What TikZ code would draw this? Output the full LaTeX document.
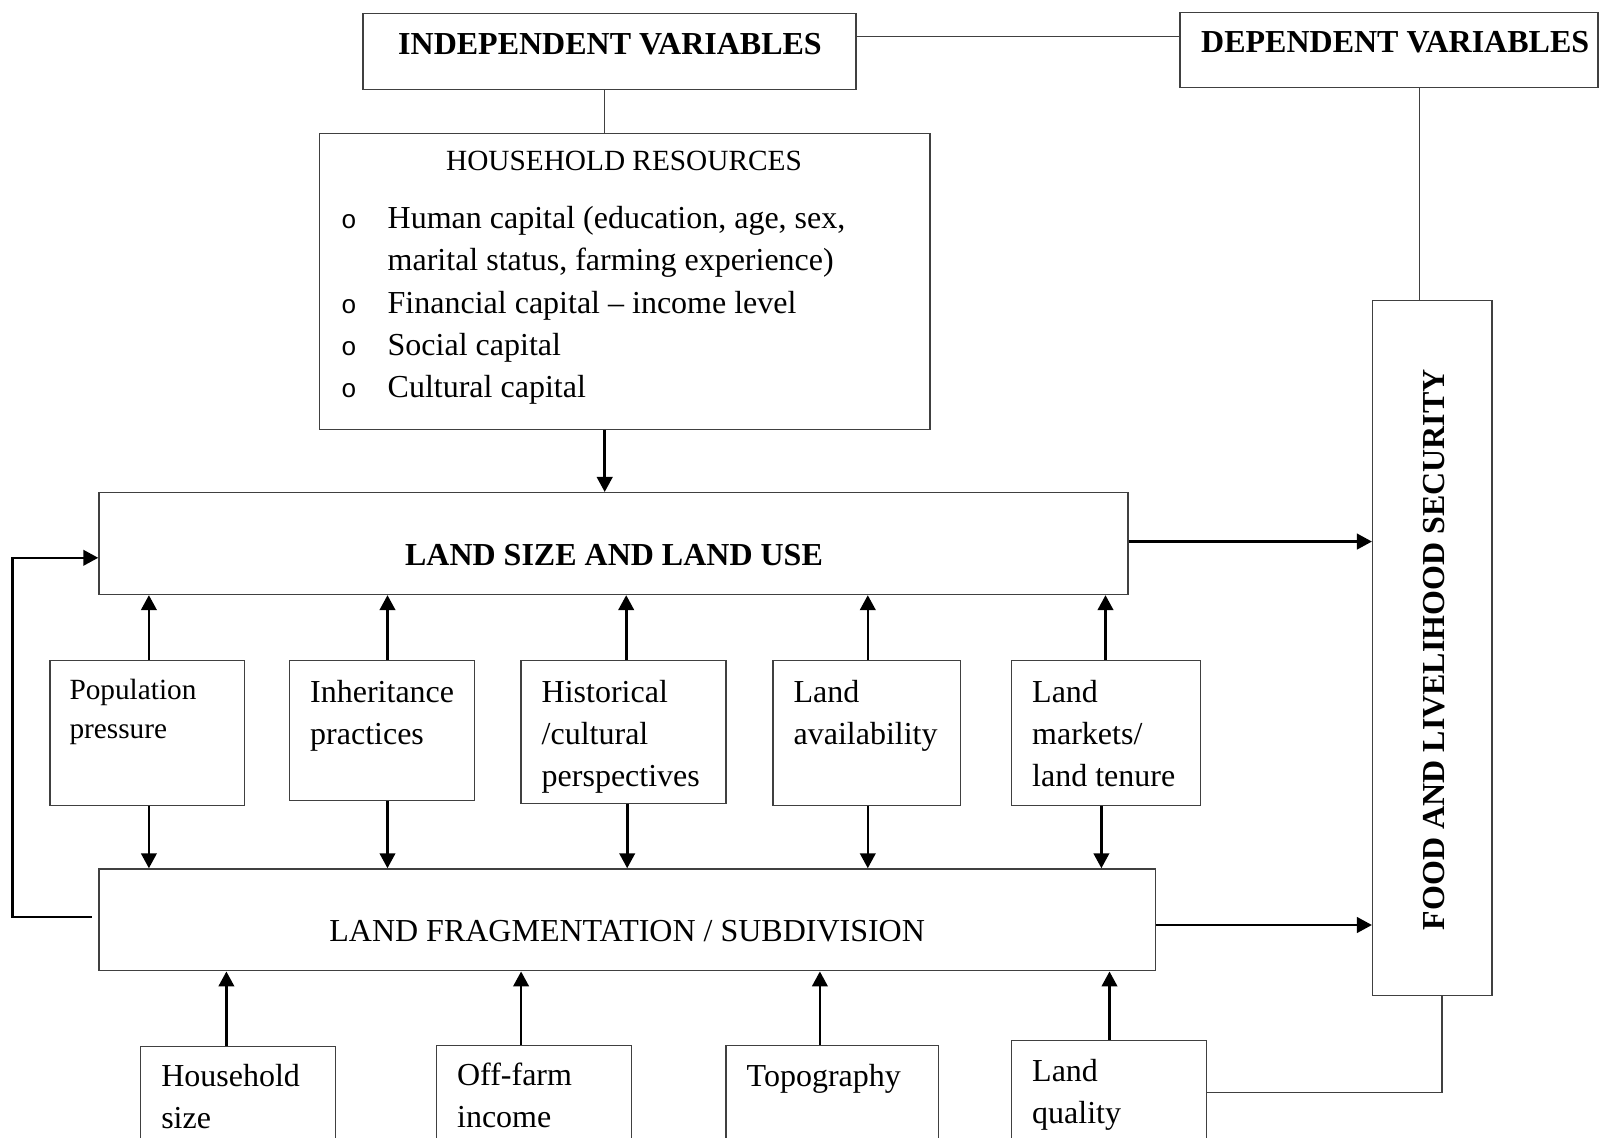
\documentclass[tikz,border=0pt]{standalone}
\usepackage{fontspec}
\setmainfont{Liberation Serif}
\newfontfamily\bulletfont{Liberation Mono}
\usetikzlibrary{arrows.meta}
\newcommand{\stackedlines}[1]{\begin{tabular}[t]{@{}l@{}}#1\end{tabular}}
\definecolor{boxgray}{HTML}{404040}
\begin{document}
\begin{tikzpicture}[x=1pt,y=-1pt,
  box/.style={draw=boxgray, line width=1.3pt, inner sep=0pt, rectangle},
  txt/.style={inner sep=0pt, font=\fontsize{32}{42}\selectfont},
  smalltxt/.style={inner sep=0pt, font=\fontsize{29.3}{39.8}\selectfont},
  boldtxt/.style={inner sep=0pt, font=\fontsize{32}{42}\selectfont\bfseries},
  link/.style={draw=boxgray, line width=1.3pt},
  arr/.style={draw=black, line width=2.6pt, -{Triangle[length=15pt,width=15.5pt]}},
]
\useasboundingbox (0,0) rectangle (1599,1138);
\clip (0,0) rectangle (1599,1138);

% ---- boxes ----
\node[box, minimum width=493pt, minimum height=76.4pt] (indep) at (609.5,51.5) {};
\node[box, minimum width=418pt, minimum height=75.5pt] (dep) at (1389,50) {};
\node[box, minimum width=610.8pt, minimum height=295.7pt] (hr) at (624.6,281.45) {};
\node[box, minimum width=1029pt, minimum height=101.9pt] (landsize) at (613.4,543.55) {};
\node[box, minimum width=119.4pt, minimum height=694.5pt] (food) at (1432.3,648.05) {};
\node[box, minimum width=194.8pt, minimum height=144.8pt] (pop) at (147.4,733.2) {};
\node[box, minimum width=184.6pt, minimum height=139.7pt] (inh) at (381.9,730.65) {};
\node[box, minimum width=205pt, minimum height=142.8pt] (hist) at (623.6,732.2) {};
\node[box, minimum width=187.7pt, minimum height=144.8pt] (avail) at (866.85,733.2) {};
\node[box, minimum width=188.7pt, minimum height=144.8pt] (markets) at (1105.95,733.2) {};
\node[box, minimum width=1056.5pt, minimum height=101.9pt] (frag) at (627.15,919.85) {};
\node[box, minimum width=194.8pt, minimum height=113.7pt] (household) at (238.1,1103.15) {};
\node[box, minimum width=194.8pt, minimum height=114.7pt] (offfarm) at (533.9,1102.65) {};
\node[box, minimum width=212.1pt, minimum height=114.7pt] (topo) at (832.15,1102.65) {};
\node[box, minimum width=194.8pt, minimum height=119.8pt] (quality) at (1109,1100.1) {};

% ---- texts ----
\node[boldtxt, anchor=base] (indeptxt) at (610,54.6) {INDEPENDENT VARIABLES};
\node[boldtxt, anchor=base west] (deptxt) at (1201,52.4) {DEPENDENT VARIABLES};
\node[smalltxt, anchor=base] (hrtitle) at (624,170.7) {HOUSEHOLD RESOURCES};
\node[txt, anchor=base west, font=\fontsize{32}{42.3}\selectfont] (hrlist) at (341,228.5) {%
  \begin{tabular}[t]{@{}l@{}l@{}}
  \makebox[46.5pt][l]{\bulletfont\fontsize{26}{42.3}\selectfont o} & Human capital (education, age, sex,\\
   & marital status, farming experience)\\
  \makebox[46.5pt][l]{\bulletfont\fontsize{26}{42.3}\selectfont o} & Financial capital -- income level\\
  \makebox[46.5pt][l]{\bulletfont\fontsize{26}{42.3}\selectfont o} & Social capital\\
  \makebox[46.5pt][l]{\bulletfont\fontsize{26}{42.3}\selectfont o} & Cultural capital
  \end{tabular}};
\node[boldtxt, anchor=base] (landsizetxt) at (614,565.4) {LAND SIZE AND LAND USE};
\node[boldtxt, anchor=base, rotate=90] (foodtxt) at (1444.4,649.6) {FOOD AND LIVELIHOOD SECURITY};
\node[smalltxt, anchor=base west] (poptxt) at (69.3,699.1) {\stackedlines{Population\\pressure}};
\node[txt, anchor=base west] (inhtxt) at (310,702) {\stackedlines{Inheritance\\practices}};
\node[txt, anchor=base west] (histtxt) at (541.5,702) {\stackedlines{Historical\\/cultural\\perspectives}};
\node[txt, anchor=base west] (availtxt) at (793.4,702) {\stackedlines{Land\\availability}};
\node[txt, anchor=base west] (marketstxt) at (1032,702) {\stackedlines{Land\\markets/\\land tenure}};
\node[txt, anchor=base] (fragtxt) at (627.2,941.6) {LAND FRAGMENTATION / SUBDIVISION};
\node[txt, anchor=base west] (householdtxt) at (161.1,1086.5) {\stackedlines{Household\\size}};
\node[txt, anchor=base west] (offfarmtxt) at (456.9,1085.5) {\stackedlines{Off-farm\\income}};
\node[txt, anchor=base west] (topotxt) at (746.5,1086.5) {Topography};
\node[txt, anchor=base west] (qualitytxt) at (1032,1081.4) {\stackedlines{Land\\quality}};

% ---- plain links ----
\draw[link] ([yshift=14.8pt]indep.east) -- ([yshift=14.8pt]indep.east -| dep.west);
\draw[link] ([xshift=-4.8pt]indep.south) -- ([xshift=-4.8pt]indep.south |- hr.north);
\draw[link] ([xshift=30.6pt]dep.south) -- ([xshift=30.6pt]dep.south |- food.north);
\draw[link] ([yshift=7.9pt]quality.east) -| ([xshift=9.7pt]food.south);

% ---- arrows ----
\draw[arr] ([xshift=-19.9pt]hr.south) -- ([xshift=-19.9pt]hr.south |- landsize.north);
\draw[arr] ([yshift=2pt]landsize.east) -- ([yshift=2pt]landsize.east -| food.west);
\draw[arr] ([yshift=-5.15pt]frag.east) -- ([yshift=-5.15pt]frag.east -| food.west);

\draw[arr] ([xshift=1.5pt]pop.north) -- ([xshift=1.5pt]pop.north |- landsize.south);
\draw[arr] ([xshift=5.6pt]inh.north) -- ([xshift=5.6pt]inh.north |- landsize.south);
\draw[arr] ([xshift=2.6pt]hist.north) -- ([xshift=2.6pt]hist.north |- landsize.south);
\draw[arr] ([xshift=0.95pt]avail.north) -- ([xshift=0.95pt]avail.north |- landsize.south);
\draw[arr] ([xshift=-0.45pt]markets.north) -- ([xshift=-0.45pt]markets.north |- landsize.south);

\draw[arr] ([xshift=1.5pt]pop.south) -- ([xshift=1.5pt]pop.south |- frag.north);
\draw[arr] ([xshift=5.6pt]inh.south) -- ([xshift=5.6pt]inh.south |- frag.north);
\draw[arr] ([xshift=3.6pt]hist.south) -- ([xshift=3.6pt]hist.south |- frag.north);
\draw[arr] ([xshift=0.95pt]avail.south) -- ([xshift=0.95pt]avail.south |- frag.north);
\draw[arr] ([xshift=-4.55pt]markets.south) -- ([xshift=-4.55pt]markets.south |- frag.north);

\draw[arr] ([xshift=-11.7pt]household.north) -- ([xshift=-11.7pt]household.north |- frag.south);
\draw[arr] ([xshift=-12.8pt]offfarm.north) -- ([xshift=-12.8pt]offfarm.north |- frag.south);
\draw[arr] ([xshift=-12.25pt]topo.north) -- ([xshift=-12.25pt]topo.north |- frag.south);
\draw[arr] ([xshift=0.5pt]quality.north) -- ([xshift=0.5pt]quality.north |- frag.south);

% ---- feedback loop ----
\coordinate (fbstart) at (91.8,916.8);
\draw[arr] (fbstart) -- (12.2,916.8) |- ([yshift=-14.25pt]landsize.west);
\end{tikzpicture}
\end{document}
